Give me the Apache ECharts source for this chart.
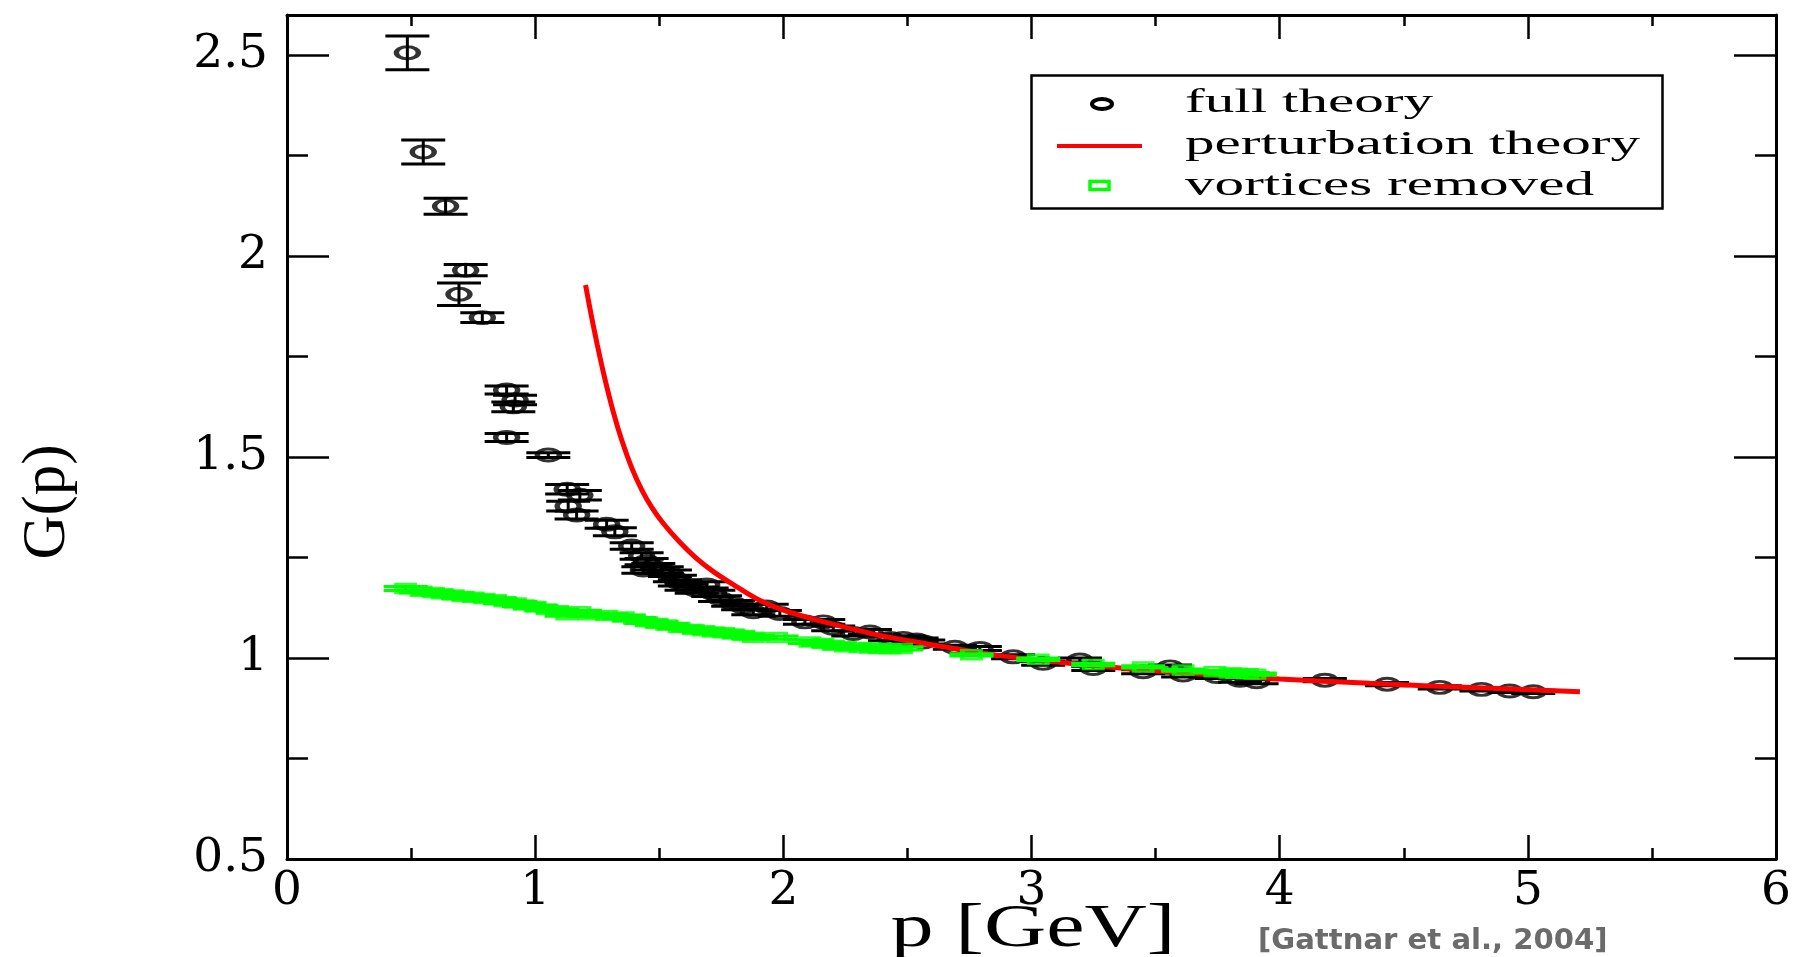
<!DOCTYPE html>
<html><head><meta charset="utf-8">
<script src="https://cdn.jsdelivr.net/npm/echarts@6/dist/echarts.min.js"></script>
<style>html,body{margin:0;padding:0;background:#fff;}#c{width:1796px;height:957px;}</style>
</head><body><div id="c"></div>
<script>
// ---- data ----
const fullP = [0.485,0.549,0.639,0.693,0.720,0.787,0.885,0.885,0.912,0.919,1.053,1.129,1.133,1.167,1.180,1.288,1.321,1.389,1.429,1.436,1.449,1.476,1.510,1.543,1.563,1.583,1.610,1.651,1.691,1.718,1.745,1.798,1.838,1.879,1.933,1.986,2.087,2.161,2.201,2.282,2.349,2.430,2.483,2.537,2.564,2.691,2.792,2.926,3.047,3.195,3.249,3.450,3.558,3.611,3.746,3.840,3.907,4.182,4.433,4.645,4.813,4.927,5.022];
const fullG = [2.506,2.259,2.124,1.905,1.965,1.847,1.667,1.549,1.625,1.642,1.505,1.420,1.378,1.356,1.405,1.333,1.314,1.279,1.254,1.219,1.240,1.227,1.219,1.211,1.198,1.187,1.177,1.169,1.182,1.161,1.148,1.136,1.127,1.115,1.127,1.111,1.090,1.090,1.074,1.061,1.065,1.049,1.049,1.045,1.040,1.027,1.024,1.003,0.987,0.995,0.974,0.966,0.978,0.958,0.954,0.945,0.941,0.945,0.935,0.927,0.922,0.918,0.916];
const fullErr = [0.042,0.030,0.020,0.028,0.014,0.012,0.010,0.010,0.012,0.012,0.006,0.012,0.012,0.010,0.012,0.010,0.010,0.008,0.008,0.008,0.008,0.008,0.008,0.008,0.008,0.008,0.008,0.008,0.008,0.008,0.007,0.007,0.007,0.007,0.007,0.007,0.006,0.006,0.006,0.006,0.006,0.006,0.006,0.005,0.005,0.005,0.005,0.005,0.005,0.005,0.005,0.005,0.005,0.005,0.005,0.005,0.005,0.004,0.004,0.004,0.004,0.004,0.004];

const pertP = [1.203,1.225,1.250,1.280,1.315,1.350,1.390,1.430,1.470,1.515,1.583,1.650,1.718,1.800,1.900,2.000,2.121,2.268,2.389,2.658,2.873,3.200,3.611,4.000,4.363,4.800,5.210];
const pertG = [1.928,1.856,1.780,1.697,1.612,1.540,1.472,1.418,1.375,1.336,1.288,1.248,1.215,1.182,1.145,1.119,1.097,1.074,1.056,1.027,1.006,0.984,0.963,0.948,0.937,0.926,0.916];

const vortP = [0.478,0.540,0.590,0.625,0.670,0.709,0.750,0.794,0.840,0.878,0.920,0.955,1.000,1.048,1.090,1.127,1.180,1.217,1.288,1.355,1.400,1.449,1.490,1.530,1.580,1.637,1.680,1.718,1.760,1.798,1.840,1.879,1.973,2.107,2.160,2.201,2.250,2.309,2.350,2.389,2.430,2.476,2.758,3.027,3.249,3.450,3.611,3.739,3.800,3.826,3.870,3.900];
const vortG = [1.173,1.166,1.163,1.160,1.157,1.153,1.151,1.148,1.145,1.140,1.137,1.132,1.128,1.121,1.118,1.108,1.115,1.108,1.106,1.102,1.097,1.090,1.086,1.082,1.076,1.071,1.068,1.065,1.063,1.060,1.056,1.052,1.051,1.040,1.036,1.032,1.028,1.026,1.025,1.024,1.023,1.024,1.008,0.997,0.984,0.978,0.970,0.966,0.963,0.962,0.961,0.960];
const vortErr = [0.005,0.004,0.004,0.004,0.004,0.004,0.004,0.004,0.004,0.004,0.004,0.004,0.004,0.004,0.004,0.004,0.004,0.004,0.004,0.004,0.004,0.004,0.004,0.004,0.004,0.004,0.004,0.004,0.004,0.004,0.004,0.004,0.004,0.004,0.004,0.004,0.004,0.004,0.004,0.004,0.004,0.004,0.003,0.003,0.003,0.003,0.003,0.003,0.003,0.003,0.003,0.003];

const xTickLabels = ['0','1','2','3','4','5','6'];
const yTickLabels = ['0.5','1','1.5','2','2.5'];
const seriesNames = ['full theory','perturbation theory','vortices removed'];
const xTitle = 'p [GeV]';
const yTitle = 'G(p)';
const citation = '[Gattnar et al., 2004]';

// ---- build ----
const fullData = fullP.map((p,i)=>[p, fullG[i], fullErr[i]]);
const pertData = pertP.map((p,i)=>[p, pertG[i]]);
const vortData = vortP.map((p,i)=>[p, vortG[i], vortErr[i]]);

function errRender(color, lw){
  return function(params, api){
    const x = api.value(0), y = api.value(1), e = api.value(2);
    const t = api.coord([x, y + e]);
    const b = api.coord([x, y - e]);
    const cw = 22;
    const st = {stroke: color, lineWidth: lw};
    return {type:'group', children:[
      {type:'line', shape:{x1:t[0], y1:t[1], x2:b[0], y2:b[1]}, style:st},
      {type:'line', shape:{x1:t[0]-cw, y1:t[1], x2:t[0]+cw, y2:t[1]}, style:st},
      {type:'line', shape:{x1:b[0]-cw, y1:b[1], x2:b[0]+cw, y2:b[1]}, style:st}
    ]};
  };
}

const black = '#000';
const lineW = 3;
const tickStyle = {color: black, width: 2.5};
const serif = 'DejaVu Serif';

function xAxisDef(pos, labels){
  return {
    type:'value', position: pos, min:0, max:6, interval:1,
    axisLine:{show:true, onZero:false, lineStyle:{color:black, width:lineW}},
    axisTick:{show:true, inside:true, length:24, lineStyle:tickStyle},
    minorTick:{show:true, splitNumber:2, length:11, lineStyle:tickStyle},
    splitLine:{show:false}, minorSplitLine:{show:false},
    axisLabel: labels ? {show:true, margin:9, color:black, fontFamily:serif, fontSize:47,
      formatter: v => xTickLabels[Math.round(v)] } : {show:false}
  };
}
function yAxisDef(pos, major){
  return {
    type:'value', position: pos, min:0.5, max:2.6, interval: major ? 0.5 : 0.25,
    axisLine:{show: major, onZero:false, lineStyle:{color:black, width:lineW}},
    axisTick:{show:true, inside:true, length: major ? 42 : 21, lineStyle:tickStyle},
    splitLine:{show:false},
    axisLabel: (major && pos === 'left') ? {show:true, margin:19, color:black, fontFamily:serif, fontSize:47,
      formatter: v => { const s = String(v); return yTickLabels.indexOf(s) >= 0 ? s : ''; } } : {show:false}
  };
}

const chart = echarts.init(document.getElementById('c'));
const legendFont = '34px "Liberation Serif"';
const lx = 1185, lsx = 1.74;
chart.setOption({
  animation:false,
  backgroundColor:'#fff',
  grid:{left:287, right:20, top:15, bottom:98, containLabel:false, outerBoundsMode:'none'},
  xAxis:[xAxisDef('bottom', true), xAxisDef('top', false)],
  yAxis:[yAxisDef('left', true), yAxisDef('left', false), yAxisDef('right', true), yAxisDef('right', false)],
  series:[
    {type:'custom', name: seriesNames[0]+' errors', data: fullData, encode:{x:0, y:1}, renderItem: errRender(black, 3), z:2, silent:true},
    {type:'scatter', name: seriesNames[0], data: fullData.map(d=>[d[0], d[1]]), symbol:'circle', symbolSize:[22,12],
      itemStyle:{color:'rgba(0,0,0,0)', borderColor:black, borderWidth:4}, z:3, silent:true},
    {type:'line', name: seriesNames[1], data: pertData, showSymbol:false, smooth:0.3,
      lineStyle:{color:'#ff0000', width:5}, z:4, silent:true},
    {type:'custom', name: seriesNames[2]+' errors', data: vortData, encode:{x:0, y:1}, renderItem: errRender('#00ff00', 3), z:5, silent:true},
    {type:'scatter', name: seriesNames[2], data: vortData.map(d=>[d[0], d[1]]), symbol:'rect', symbolSize:[18,9],
      itemStyle:{color:'rgba(0,0,0,0)', borderColor:'#00ff00', borderWidth:3.5}, z:6, silent:true}
  ],
  graphic:[
    {type:'text', x:48, y:502, rotation:Math.PI/2, z:10,
      style:{text:yTitle, font:'61px "Liberation Serif"', fill:black, align:'center', verticalAlign:'middle'}},
    {type:'text', x:1033, y:930, scaleX:1.39, z:10,
      style:{text:xTitle, font:'62px "Liberation Serif"', fill:black, align:'center', verticalAlign:'middle'}},
    {type:'text', x:1258, y:942, scaleX:1.04, z:10,
      style:{text:citation, font:'bold 28px "DejaVu Sans"', fill:'#6b6b6b', align:'left', verticalAlign:'middle'}},
    {type:'group', z:20, children:[
      {type:'rect', shape:{x:1031.5, y:75.5, width:631, height:133}, style:{fill:'#fff', stroke:black, lineWidth:2.5}},
      {type:'ellipse', shape:{cx:1102, cy:104, rx:10, ry:5}, style:{fill:'none', stroke:black, lineWidth:4}},
      {type:'line', shape:{x1:1057, y1:146, x2:1142, y2:146}, style:{stroke:'#ff0000', lineWidth:4}},
      {type:'rect', shape:{x:1090, y:181.5, width:19, height:8}, style:{fill:'none', stroke:'#00ff00', lineWidth:3.5}},
      {type:'text', x:lx, y:103, scaleX:lsx, style:{text:seriesNames[0], font:legendFont, fill:black, verticalAlign:'middle'}},
      {type:'text', x:lx, y:145, scaleX:lsx, style:{text:seriesNames[1], font:legendFont, fill:black, verticalAlign:'middle'}},
      {type:'text', x:lx, y:186, scaleX:lsx, style:{text:seriesNames[2], font:legendFont, fill:black, verticalAlign:'middle'}}
    ]}
  ]
});
</script></body></html>
